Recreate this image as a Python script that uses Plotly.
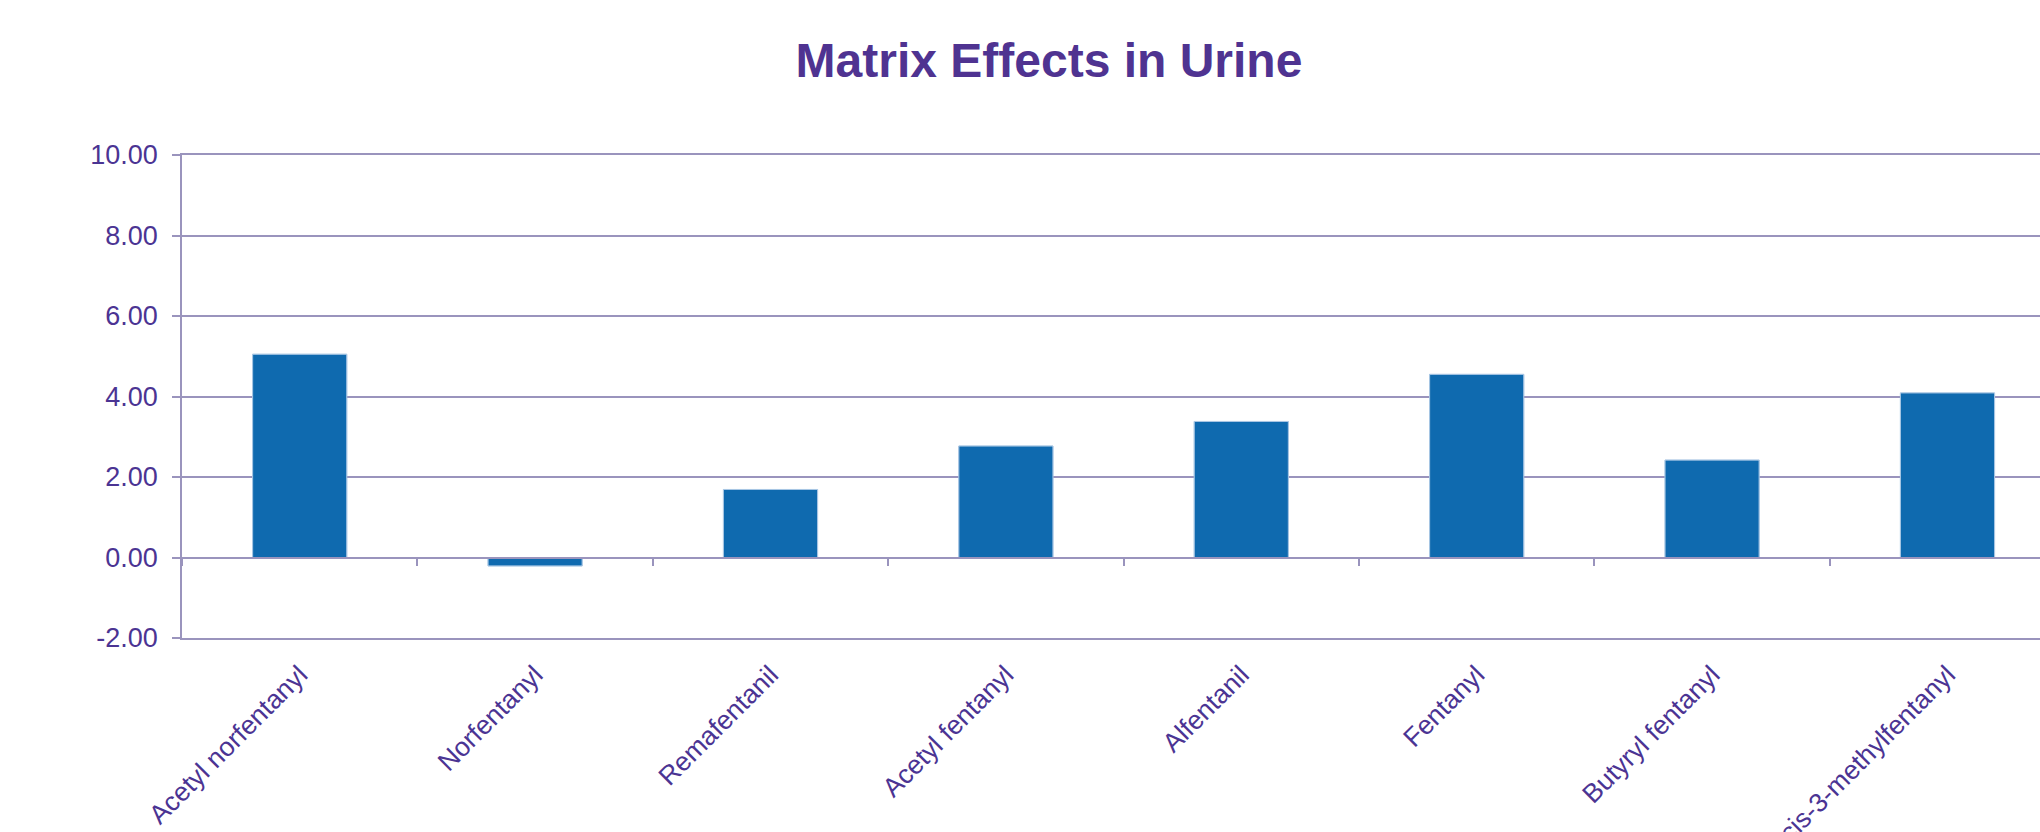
import plotly.graph_objects as go

# Matrix effect per analyte in urine
analytes = [
    "Acetyl norfentanyl",
    "Norfentanyl",
    "Remafentanil",
    "Acetyl fentanyl",
    "Alfentanil",
    "Fentanyl",
    "Butyryl fentanyl",
    "cis-3-methylfentanyl",
]
matrix_effect = [5.05, -0.21, 1.69, 2.77, 3.38, 4.55, 2.42, 4.09]

y_ticks = [-2, 0, 2, 4, 6, 8, 10]
y_tick_text = ["-2.00", "0.00", "2.00", "4.00", "6.00", "8.00", "10.00"]

W, H = 2040, 832
M_L, M_R, M_T, M_B = 182, 0, 155, 194
Y_MIN, Y_MAX = -2, 10

TEXT = "#4B3493"
GRID = "#9A94BD"
BAR = "#0F6AAF"

fig = go.Figure()

fig.add_trace(go.Bar(
    x=analytes, y=matrix_effect, xaxis="x", yaxis="y",
    marker=dict(color=BAR, line=dict(color="#6FA2D2", width=1)),
    width=0.4, hoverinfo="x+y",
))
# invisible copy so the zero-level axis carries the same categories
fig.add_trace(go.Bar(
    x=analytes, y=matrix_effect, xaxis="x2", yaxis="y",
    marker=dict(color="rgba(0,0,0,0)"), width=0.4, hoverinfo="skip",
    showlegend=False,
))

# position of the category axis line at y = 0, as a fraction of the plot height
zero_pos = (0 - Y_MIN) / (Y_MAX - Y_MIN)

x_range = [-0.5, 7.393]

fig.update_layout(
    width=W, height=H,
    margin=dict(l=M_L, r=M_R, t=M_T, b=M_B, autoexpand=False),
    paper_bgcolor="white", plot_bgcolor="white",
    showlegend=False,
    title=dict(
        text="<b>Matrix Effects in Urine</b>",
        x=1049 / W, xanchor="center",
        y=1 - 60 / H, yanchor="middle",
        font=dict(family="Liberation Sans, Arial", size=48, color="#4F3391"),
    ),
    xaxis=dict(
        type="category", range=x_range,
        showgrid=False, zeroline=False,
        showline=True, mirror=True, linecolor=GRID, linewidth=1.5,
        ticks="", tickangle=-45, ticklabelstandoff=9,
        tickfont=dict(family="Liberation Sans, Arial", size=26.5, color=TEXT),
    ),
    xaxis2=dict(
        type="category", overlaying="x", matches="x",
        anchor="free", position=zero_pos,
        showgrid=False, zeroline=False,
        showline=True, linecolor=GRID, linewidth=1.5,
        ticks="outside", tickson="boundaries", ticklen=8,
        tickcolor=GRID, tickwidth=1.5,
        showticklabels=False,
    ),
    yaxis=dict(
        range=[Y_MIN, Y_MAX],
        tickvals=y_ticks, ticktext=y_tick_text,
        showgrid=True, gridcolor=GRID, gridwidth=1.5,
        zeroline=False,
        showline=True, linecolor=GRID, linewidth=1.5,
        ticks="outside", ticklen=8, tickcolor=GRID, tickwidth=1.5,
        ticklabelstandoff=9,
        tickfont=dict(family="Liberation Sans, Arial", size=27, color=TEXT),
    ),
)

fig.write_html("out.html")
